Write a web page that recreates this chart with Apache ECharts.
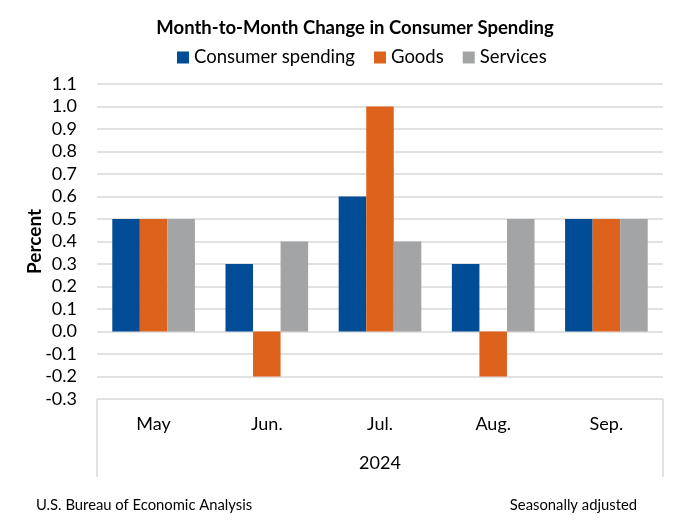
<!DOCTYPE html>
<html><head><meta charset="utf-8">
<script src="https://cdn.jsdelivr.net/npm/echarts@6/dist/echarts.min.js"></script>
<style>html,body{margin:0;padding:0;background:#fff}#c{width:687px;height:525px}</style>
</head><body><div id="c"></div>
<script>
const categories = ['May', 'Jun.', 'Jul.', 'Aug.', 'Sep.'];
const consumerSpending = [0.5, 0.3, 0.6, 0.3, 0.5];
const goods = [0.5, -0.2, 1.0, -0.2, 0.5];
const services = [0.5, 0.4, 0.4, 0.5, 0.5];
const yearLabel = '2024';
const FONT = 'Lato, "Open Sans", sans-serif';

const chart = echarts.init(document.getElementById('c'), null, {renderer: 'canvas'});
const gl = {left: 97, right: 24, top: 84, bottom: 126};
const boxBottom = 477;
chart.setOption({
  animation: false,
  textStyle: {fontFamily: FONT},
  title: {text: 'Month-to-Month Change in Consumer Spending', left: 350, top: 14, textAlign: 'center',
    textStyle: {fontFamily: FONT, fontWeight: 'bold', fontSize: 18.5, color: '#000'}},
  legend: {top: 43, left: 172, itemWidth: 12, itemHeight: 12, itemGap: 19,
    icon: 'rect', textStyle: {fontFamily: FONT, fontSize: 18.5, color: '#000'},
    data: ['Consumer spending', 'Goods', 'Services']},
  grid: gl,
  xAxis: {type: 'category', data: categories,
    axisLine: {show: false}, axisTick: {show: false},
    axisLabel: {margin: 16, fontSize: 18, color: '#000', fontFamily: FONT}},
  yAxis: {type: 'value', min: -0.3, max: 1.1, interval: 0.1,
    name: 'Percent', nameLocation: 'middle', nameGap: 53, nameRotate: 90, nameMoveOverlap: false,
    nameTextStyle: {fontFamily: FONT, fontWeight: 'bold', fontSize: 19, color: '#000'},
    axisLabel: {fontSize: 18, color: '#000', margin: 20, fontFamily: FONT,
      formatter: v => (Math.round(v * 10) / 10).toFixed(1)},
    splitLine: {lineStyle: {color: '#d9d9d9', width: 1.5}},
    axisLine: {show: false}, axisTick: {show: false}},
  series: [
    {name: 'Consumer spending', type: 'bar', data: consumerSpending, barGap: '0%', barCategoryGap: '27%',
      itemStyle: {color: '#004C97'}},
    {name: 'Goods', type: 'bar', data: goods, itemStyle: {color: '#DD631D'}},
    {name: 'Services', type: 'bar', data: services, itemStyle: {color: '#A2A4A5'}}
  ],
  graphic: [
    {type: 'line', shape: {x1: gl.left, y1: 399, x2: gl.left, y2: boxBottom}, style: {stroke: '#d9d9d9', lineWidth: 1.5}},
    {type: 'line', shape: {x1: 687 - gl.right, y1: 399, x2: 687 - gl.right, y2: boxBottom}, style: {stroke: '#d9d9d9', lineWidth: 1.5}},
    {type: 'text', x: 380, y: 463, style: {text: yearLabel, font: '18px ' + FONT, fill: '#000', align: 'center', verticalAlign: 'middle'}},
    {type: 'text', x: 36, y: 505, style: {text: 'U.S. Bureau of Economic Analysis', font: '14.8px ' + FONT, fill: '#000', align: 'left', verticalAlign: 'middle'}},
    {type: 'text', x: 637, y: 505, style: {text: 'Seasonally adjusted', font: '14.8px ' + FONT, fill: '#000', align: 'right', verticalAlign: 'middle'}}
  ]
});
</script></body></html>
